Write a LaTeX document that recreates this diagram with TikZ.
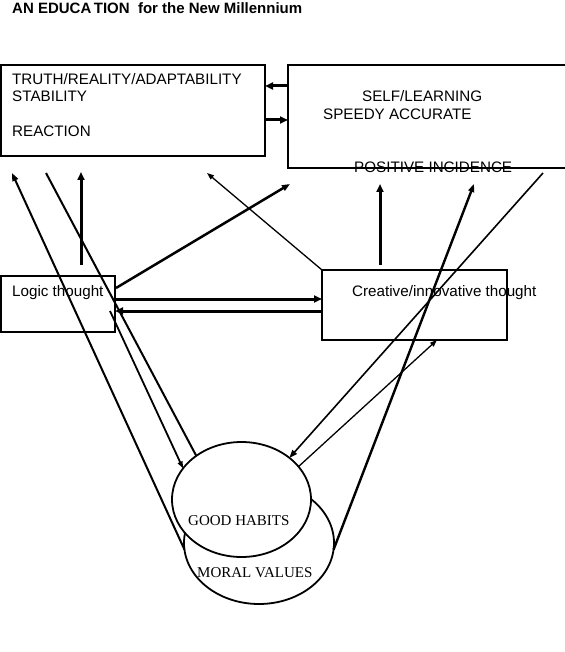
\documentclass[tikz,border=0pt]{standalone}
\usepackage{fontspec}
\setmainfont{Liberation Sans}
\newfontfamily\habitfont{Liberation Serif}
\usetikzlibrary{arrows.meta, shapes.geometric}

\begin{document}
\begin{tikzpicture}[x=1pt, y=-1pt,
	box/.style={draw, line width=2pt, rectangle, inner sep=0pt, outer sep=0pt, anchor=north west},
	ring/.style={draw, line width=1.8pt, ellipse, inner sep=0pt, outer sep=0pt, fill=white},
	boxtext/.style={anchor=base west, inner sep=0pt, font=\fontsize{15.2}{18}\selectfont},
	heavy/.style={line width=3pt, -{Triangle[length=8pt, width=7pt]}},
	medium/.style={line width=2pt, -{Triangle[length=8pt, width=6pt]}},
	light/.style={line width=1.3pt, -{Triangle[length=7pt, width=5pt]}}]

		\useasboundingbox (0,0) rectangle (564,652);

		\node[boxtext, font=\bfseries\fontsize{15}{17}\selectfont] (title) at (12,14) {AN EDUCA\,TION\ \ for the New Millennium};

		% the four boxes
		\node[box, minimum width=264pt, minimum height=91pt] (truth) at (1,65) {};
		\node[box, minimum width=280pt, minimum height=103pt] (selfl) at (288,65) {};
		\node[box, minimum width=114pt, minimum height=56pt] (logic) at (1,276) {};
		\node[box, minimum width=185pt, minimum height=70pt] (creative) at (322,270) {};

		\node[boxtext] (truthA) at (12,85) {TRUTH/REALITY/ADAPTABILITY};
		\node[boxtext] (truthB) at (12,102) {STABILITY};
		\node[boxtext] (truthC) at (12,137) {REACTION};
		\node[boxtext] (selfA) at (362,102) {SELF/LEARNING};
		\node[boxtext] (selfB) at (323,120) {SPEEDY ACCURATE};
		\node[boxtext] (selfC) at (354,173) {POSITIVE INCIDENCE};
		\node[boxtext] (logicT) at (12,296) {Logic thought};
		\node[boxtext] (creativeT) at (352,296) {Creative/innovative thought};

		% the two rings
		\node[ring, minimum width=150pt, minimum height=122pt] (moral) at (259,543) {};
		\node[ring, minimum width=139pt, minimum height=115pt] (habits) at (241.5,499.5) {};
		\node[boxtext, font=\habitfont\fontsize{15}{18}\selectfont] (habitsT) at (188,525) {GOOD HABITS};
		\node[boxtext, font=\habitfont\fontsize{15}{18}\selectfont] (moralT) at (197,577) {MORAL VALUES};

		\coordinate (rowTop) at (0,86);
		\coordinate (rowLow) at (0,120);
		\coordinate (rowOut) at (0,299);
		\coordinate (rowBack) at (0,311);

		\coordinate (tipA) at (12,173);
		\coordinate (tailB) at (46,173);
		\coordinate (logicUp) at (81,265);
		\coordinate (truthUp) at (81,172);
		\coordinate (logicSide) at (116,288);
		\coordinate (selfTip) at (290,184);
		\coordinate (truthTip) at (207,173);
		\coordinate (creativeUp) at (380,265);
		\coordinate (selfUp) at (380,184);
		\coordinate (tailC) at (543,173);
		\coordinate (tipD) at (474,184);
		\coordinate (tipE) at (437,340);
		\coordinate (logicLow) at (110,311);

		\draw[heavy] (selfl.west |- rowTop) -- (truth.east |- rowTop);
		\draw[heavy] (truth.east |- rowLow) -- (selfl.west |- rowLow);
		\draw[heavy] (logic.east |- rowOut) -- (creative.west |- rowOut);
		\draw[heavy] (creative.west |- rowBack) -- (logic.east |- rowBack);

		\draw[heavy] (logicUp) -- (truthUp);
		\draw[heavy] (creativeUp) -- (selfUp);
		\draw[medium, line width=2.5pt] (logicSide) -- (selfTip);
		\draw[light] (creative.north west) -- (truthTip);

		\draw[medium] (moral.185) -- (tipA);
		\draw[line width=2pt] (tailB) -- (habits.136);
		\draw[light, line width=1.8pt] (logicLow) -- (habits.152);
		\draw[medium, line width=1.6pt] (tailC) -- (habits.41);
		\draw[medium, line width=2.4pt] (moral.355) -- (tipD);
		\draw[light] (habits.30) -- (tipE);

	\end{tikzpicture}
\end{document}
